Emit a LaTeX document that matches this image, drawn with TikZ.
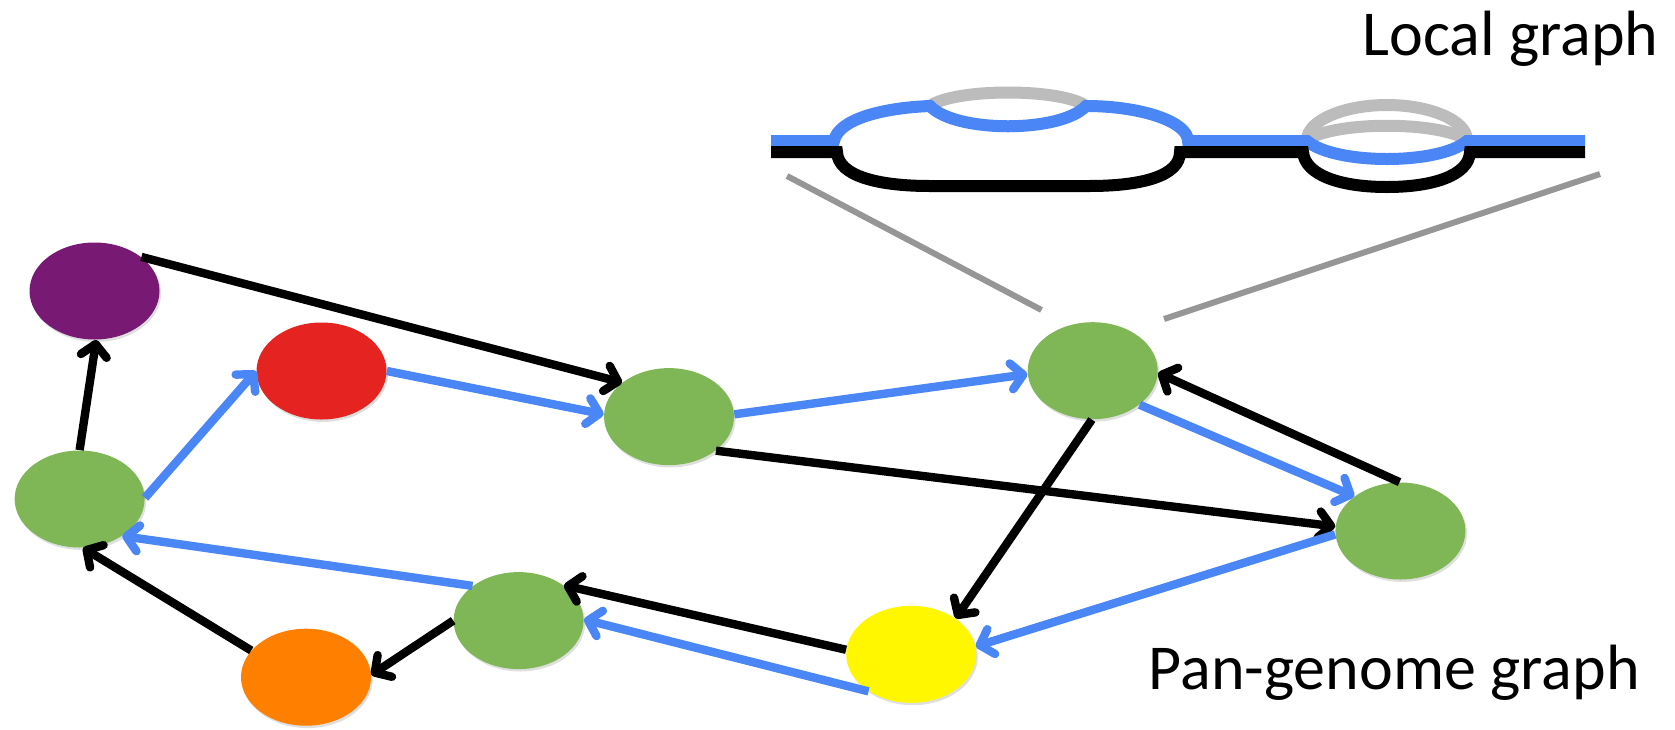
\documentclass[tikz,border=0pt]{standalone}
\usepackage{fontspec}
\setmainfont{Carlito}
\usetikzlibrary{arrows.meta,shapes.geometric,shadows}
\definecolor{gpurple}{RGB}{120,26,116}
\definecolor{gred}{RGB}{229,36,33}
\definecolor{ggreen}{RGB}{128,183,86}
\definecolor{gyellow}{RGB}{255,247,0}
\definecolor{gorange}{RGB}{255,127,0}
\definecolor{gblue}{RGB}{74,134,245}
\definecolor{lgray}{RGB}{188,188,188}
\definecolor{zgray}{RGB}{150,150,150}
\begin{document}
\begin{tikzpicture}[x=0.5pt,y=-0.5pt,
  vtx/.style={ellipse, minimum width=65pt, minimum height=48.5pt, inner sep=0pt,
    draw=none, drop shadow={shadow xshift=0.8pt, shadow yshift=-1.2pt, opacity=0.25}},
  tip/.style={-{Straight Barb[length=6pt,width=13pt,round]}},
  blk/.style={tip, draw=black, line width=4.2pt},
  blu/.style={tip, draw=gblue, line width=4.2pt},
  lbl/.style={anchor=base east, font=\fontsize{32}{38}\selectfont, inner sep=0pt},
  track/.style={line width=6pt},
  zoomline/.style={draw=zgray, line width=3pt}]
\useasboundingbox (0,0) rectangle (1675,729);

% labels
\node[lbl] (lg) at (1659,55) {Local graph};
\node[lbl] (pg) at (1640,689) {Pan-genome graph};

% local graph: grey alternatives
\draw[track, lgray] (930,106) .. controls (955,88) and (1061,88) .. (1086,106);
\draw[track, lgray] (1307,140) .. controls (1307,121) and (1343,105) .. (1387,105)
  .. controls (1431,105) and (1467,121) .. (1467,140);
\draw[track, lgray] (1307,140) .. controls (1335,121) and (1439,121) .. (1467,140);
% blue path
\draw[track, gblue] (771,141) -- (834,141) .. controls (838,120) and (880,108) .. (930,106)
  .. controls (955,133) and (1061,133) .. (1086,106)
  .. controls (1142,106) and (1188,122) .. (1188,141) -- (1307,141)
  .. controls (1335,165) and (1439,165) .. (1467,141) -- (1585,141);
% black path
\draw[track, black] (771,152) -- (837,152) .. controls (838,176) and (878,186) .. (930,186)
  -- (1089,186) .. controls (1142,186) and (1180,176) .. (1180,152) -- (1303,152)
  .. controls (1305,175) and (1340,187) .. (1387,187)
  .. controls (1434,187) and (1469,175) .. (1470,152) -- (1585,152);

% zoom lines
\coordinate (zl1) at (787,176);
\coordinate (zl2) at (1041.5,310);
\coordinate (zr1) at (1600,174);
\coordinate (zr2) at (1164,319);
\draw[zoomline] (zl1) -- (zl2);
\draw[zoomline] (zr1) -- (zr2);

% vertices
\node[vtx, fill=gpurple] (P) at (94.5,291) {};
\node[vtx, fill=gred] (R) at (321.5,371) {};
\node[vtx, fill=ggreen] (G1) at (79.6,499) {};
\node[vtx, fill=ggreen] (G2) at (669,416.6) {};
\node[vtx, fill=ggreen] (G3) at (1092.7,370.7) {};
\node[vtx, fill=ggreen] (G4) at (1400.4,531) {};
\node[vtx, fill=ggreen] (G5) at (518.6,620.6) {};
\node[vtx, fill=gyellow] (Y) at (911.2,654.3) {};
\node[vtx, fill=gorange] (O) at (306,677.2) {};

% black edges
\draw[blk] (G1.90) -- (P.272);
\draw[blk] (P.36) -- (G2.144);
\draw[blk] (G2.324) -- (G4.176);
\draw[blk] (G3.269) -- (Y.39);
\draw[blk] (G4.91) -- (G3.358);
\draw[blk] (Y.176) -- (G5.38);
\draw[blk] (G5.180) -- (O.2);
\draw[blk] (O.154) -- (G1.274);

% blue edges
\draw[blu] (G1.1) -- (R.180);
\draw[blu] (R.0) -- (G2.178);
\draw[blu] (G2.2) -- (G3.183);
\draw[blu] (G3.324) -- (G4.143);
\draw[blu] (G4.183) -- (Y.7);
\draw[blu] (Y.221) -- (G5.1);
\draw[blu] (G5.143) -- (G1.319);
\end{tikzpicture}
\end{document}
